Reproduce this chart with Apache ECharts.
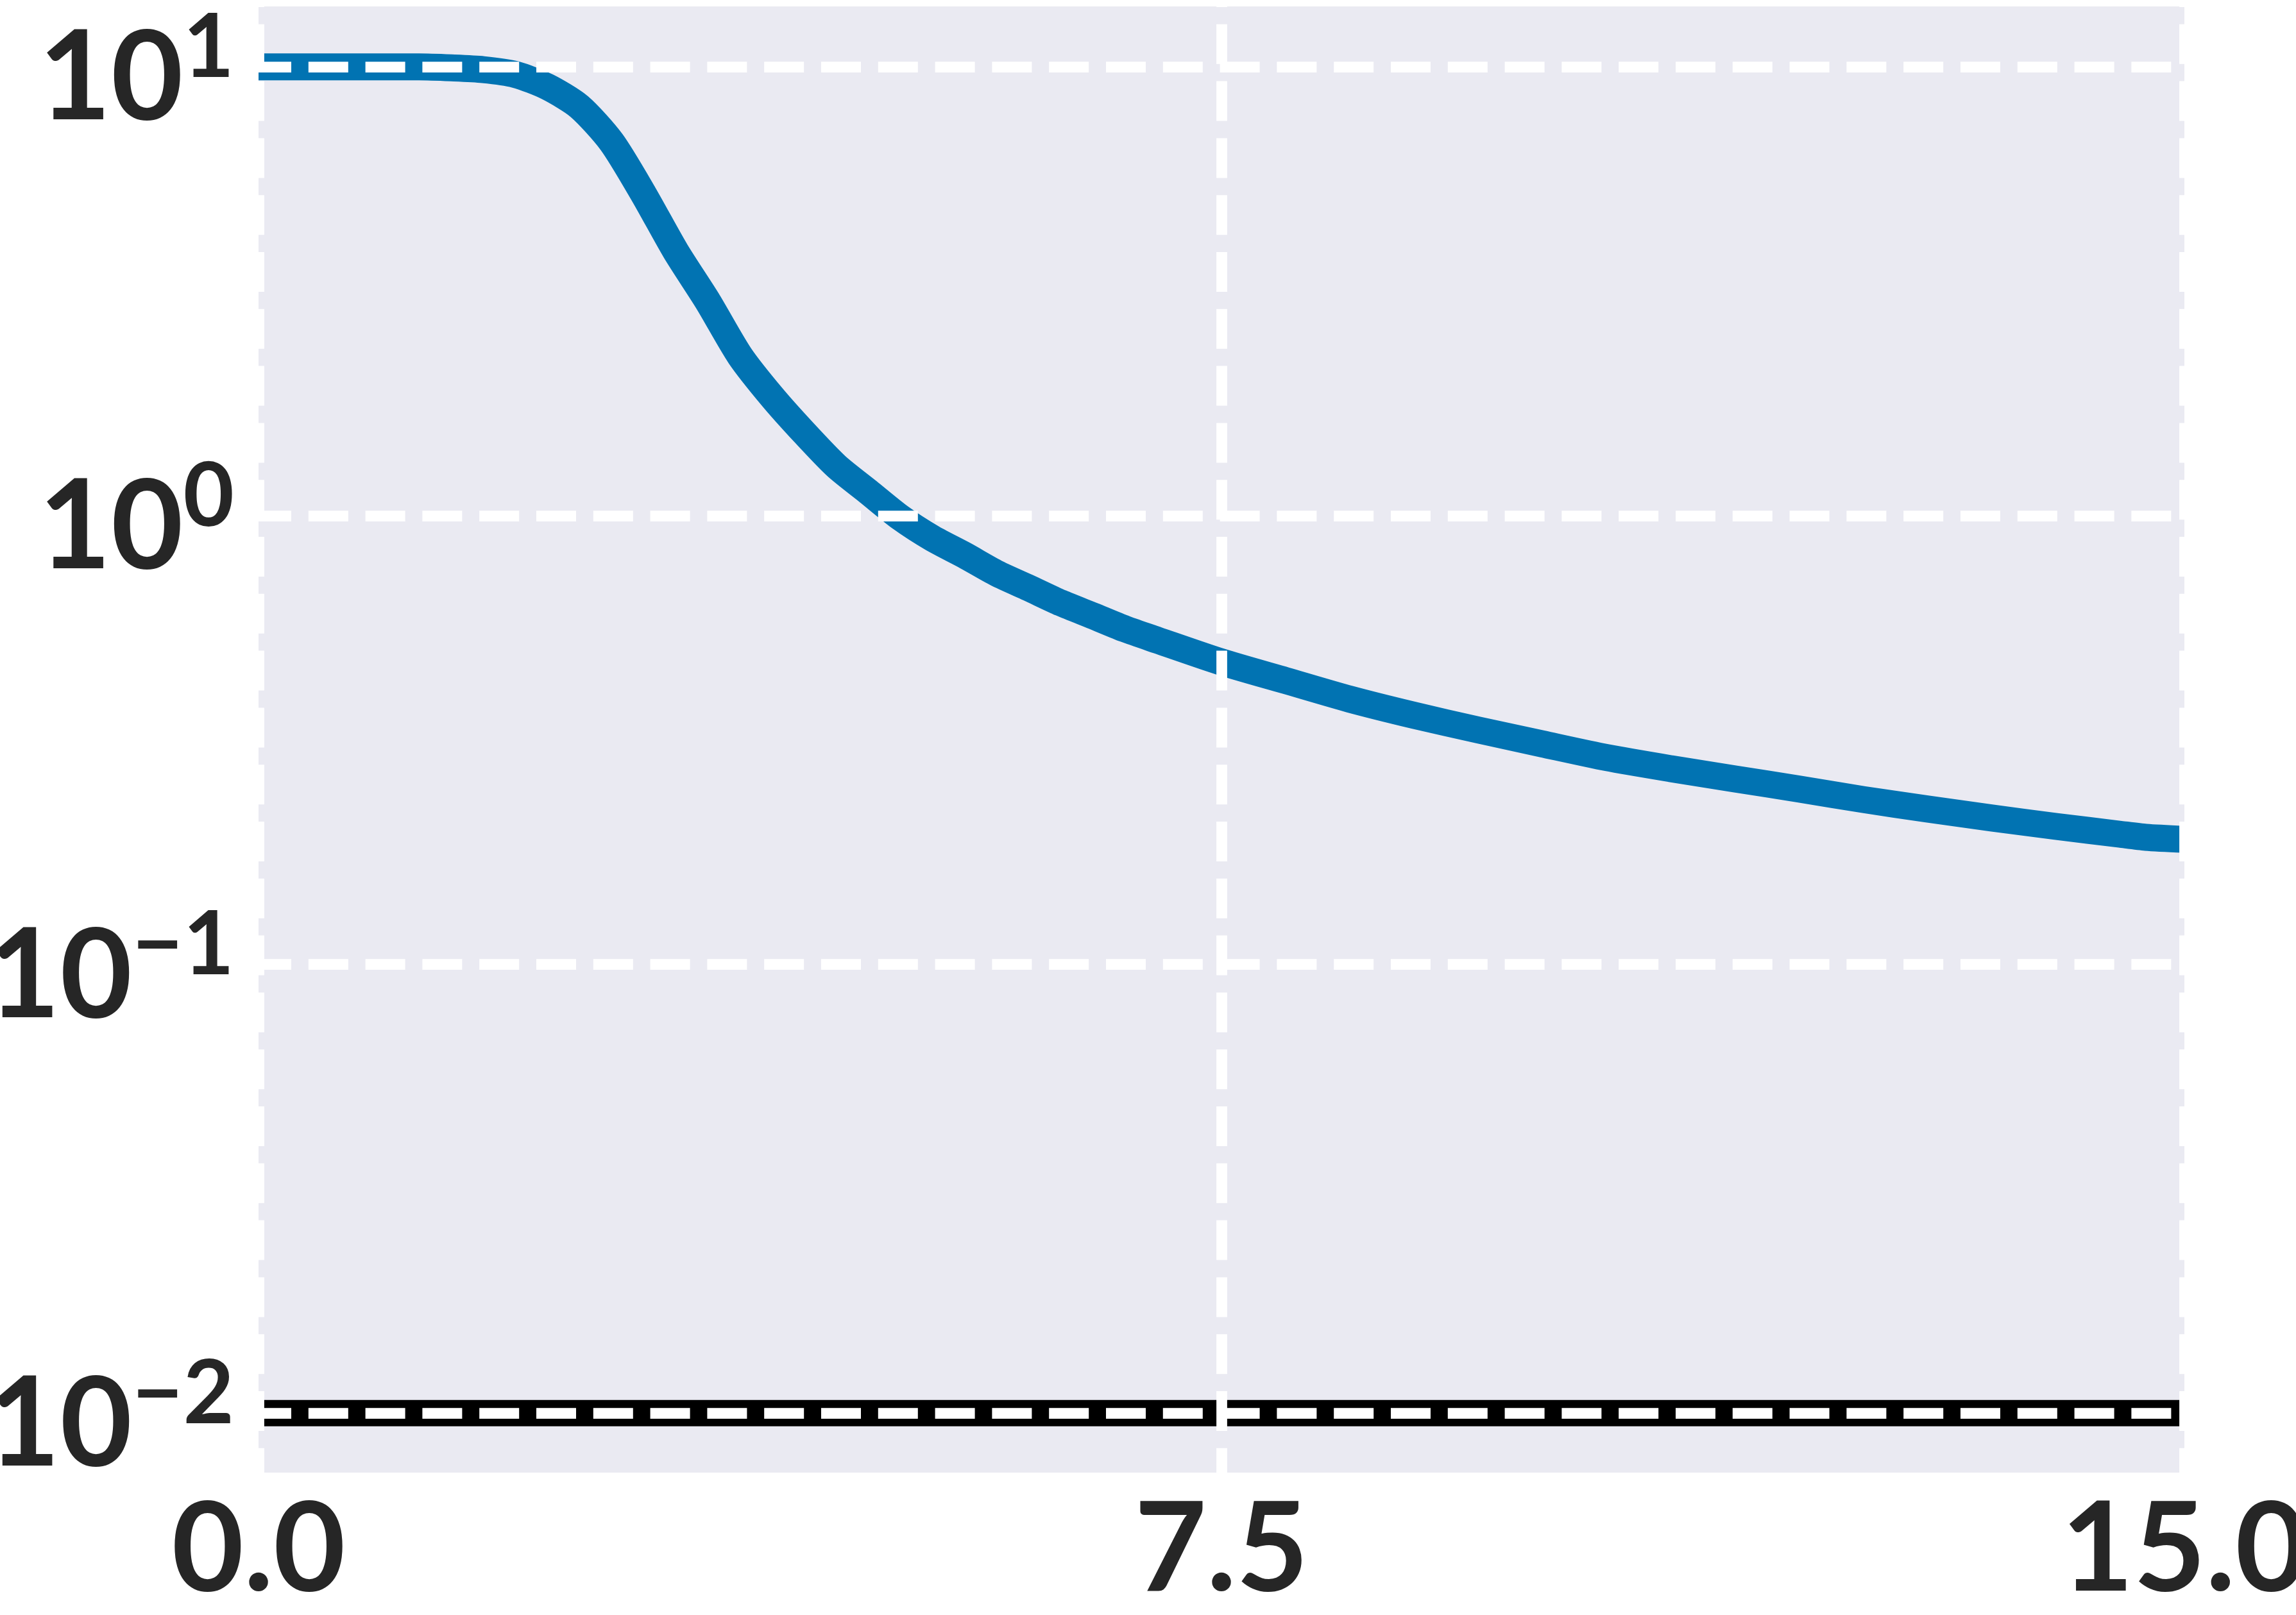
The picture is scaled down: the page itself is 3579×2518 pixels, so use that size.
<!DOCTYPE html>
<html>
<head>
<meta charset="utf-8">
<script src="https://cdn.jsdelivr.net/npm/echarts@6/dist/echarts.min.js"></script>
<style>
  html, body { margin: 0; padding: 0; background: #ffffff; }
  #chart { width: 3579px; height: 2518px; }
</style>
</head>
<body>
<div id="chart"></div>
<script>
// ---- data ----
const xValues = [0, 0.5, 1.0, 1.25, 1.5, 1.75, 2.0, 2.25, 2.5, 2.75, 3.0, 3.25, 3.5, 3.75,
  4.0, 4.25, 4.5, 4.75, 5.0, 5.25, 5.5, 5.75, 6.0, 6.25, 6.5, 6.75, 7.0, 7.5, 8.0, 8.5,
  9.0, 9.5, 10.0, 10.5, 11.0, 11.5, 12.0, 12.5, 13.0, 13.5, 14.0, 14.5, 14.7, 15.0];
const yValues = [10.0, 10.0, 10.0, 10.0, 9.95, 9.86, 9.62, 9.03, 8.15, 6.8, 5.2, 3.88, 3.0, 2.27,
  1.84, 1.53, 1.29, 1.13, 0.99, 0.89, 0.816, 0.744, 0.690, 0.639, 0.598, 0.559, 0.528, 0.472, 0.429, 0.390,
  0.359, 0.333, 0.310, 0.289, 0.273, 0.259, 0.246, 0.233, 0.222, 0.212, 0.203, 0.195, 0.192, 0.190];
const floorX = [0, 15];
const floorY = [0.01, 0.01];
const xTickValues = [0, 7.5, 15];
const xTickLabels = ['0.0', '7.5', '15.0'];
const yTickExponents = [-2, -1, 0, 1];
const yTickLabels = ['\u22122', '\u22121', '0', '1'];

const FONT = "Lato, 'DejaVu Sans', sans-serif";
const TEXT = '#262626';

const chart = echarts.init(document.getElementById('chart'), null, { renderer: 'canvas' });

const gridSplit = (offset) => ({
  show: true,
  lineStyle: { color: '#ffffff', width: 16.75, type: [62, 26.8], dashOffset: offset, cap: 'butt' }
});

chart.setOption({
  animation: false,
  backgroundColor: '#ffffff',
  grid: {
    left: 403, right: 174, top: 10, bottom: 222,
    show: true, backgroundColor: '#EAEAF2', borderWidth: 0,
    containLabel: false, outerBoundsMode: 'none'
  },
  xAxis: {
    type: 'value', min: 0, max: 15, interval: 7.5, z: 10,
    axisLine: { show: false }, axisTick: { show: false },
    splitLine: Object.assign(gridSplit(61), { showMinLine: true, showMaxLine: true }),
    axisLabel: {
      margin: 24, color: TEXT, fontSize: 194, lineHeight: 194, fontWeight: 'bold', fontFamily: FONT,
      formatter: (v) => {
        const i = xTickValues.findIndex(t => Math.abs(t - v) < 1e-9);
        return i >= 0 ? xTickLabels[i] : '';
      }
    }
  },
  yAxis: {
    type: 'log', logBase: 10, min: 0.007372, max: 13.64, z: 10,
    axisLine: { show: false }, axisTick: { show: false },
    splitLine: Object.assign(gridSplit(11), { showMinLine: false, showMaxLine: false }),
    axisLabel: {
      margin: 38, showMinLabel: false, showMaxLabel: false,
      formatter: (v) => {
        const e = Math.round(Math.log10(v));
        if (Math.abs(Math.log10(v) - e) > 1e-6) return '';
        const i = yTickExponents.indexOf(e);
        if (i < 0) return '';
        return '{b|10}{s|' + yTickLabels[i] + '}';
      },
      rich: {
        b: { fontSize: 194, lineHeight: 194, fontWeight: 'bold', fontFamily: FONT, color: TEXT,
             padding: [39, 0, 0, 0] },
        s: { fontSize: 137, lineHeight: 106, fontWeight: 'bold', fontFamily: FONT, color: TEXT,
             verticalAlign: 'top' }
      }
    }
  },
  series: [
    {
      type: 'line', name: 'curve', z: 2,
      data: xValues.map((x, i) => [x, yValues[i]]),
      showSymbol: false, symbol: 'none', smooth: 0.25,
      lineStyle: { color: '#0173B2', width: 42, cap: 'butt', join: 'round' }
    },
    {
      type: 'line', name: 'floor', z: 2,
      data: floorX.map((x, i) => [x, floorY[i]]),
      showSymbol: false, symbol: 'none',
      lineStyle: { color: '#000000', width: 41, cap: 'butt' }
    }
  ]
});
</script>
</body>
</html>
